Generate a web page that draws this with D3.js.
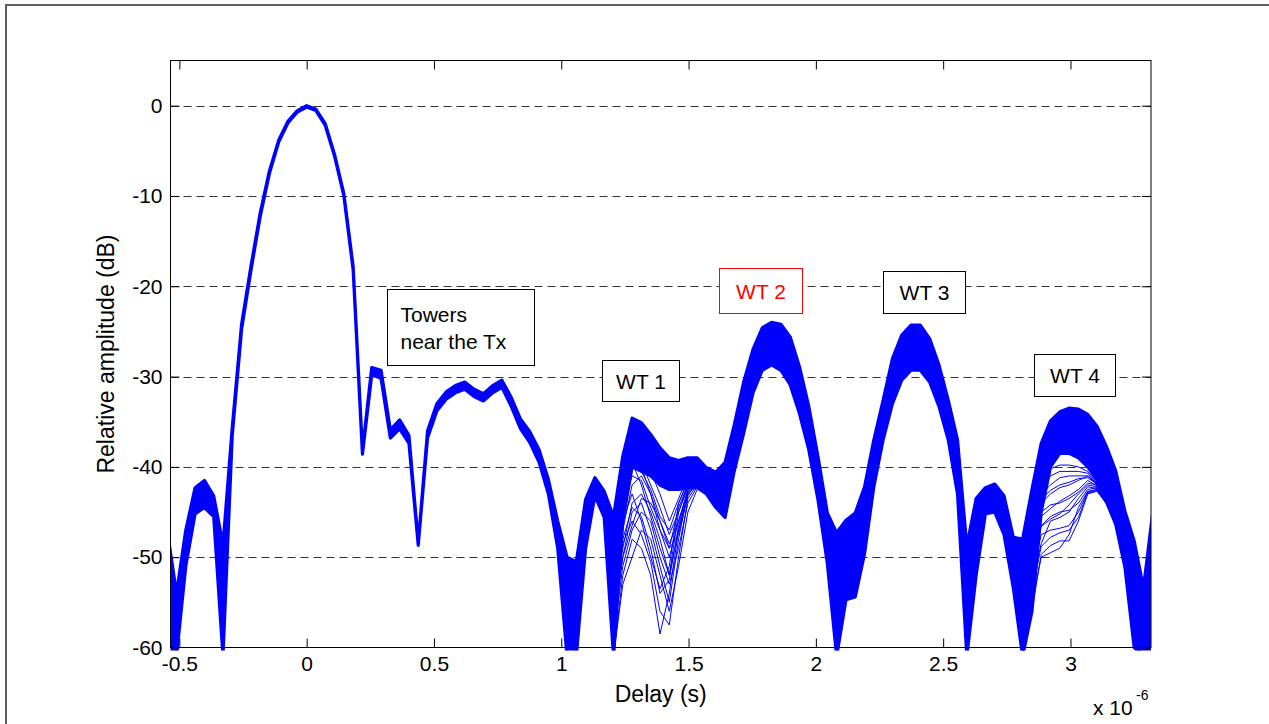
<!DOCTYPE html>
<html><head><meta charset="utf-8">
<script src="https://cdn.jsdelivr.net/npm/d3@7"></script>
<style>
body{margin:0;background:#fff}
svg{display:block}
text{font-family:"Liberation Sans",Arial,Helvetica,sans-serif}
</style>
</head><body><svg id="c" width="1269" height="724"></svg>
<script>
// ---- data (delay in units of 1e-6 s, amplitude in dB) ----
const delayUs = [-0.5478,-0.5113,-0.4748,-0.4382,-0.4017,-0.3652,-0.3287,-0.2922,-0.2556,-0.2191,
 -0.1826,-0.1461,-0.1096,-0.0730,-0.0365,0,0.0365,0.0730,0.1096,0.1461,
 0.1826,0.2191,0.2556,0.2922,0.3287,0.3652,0.4017,0.4382,0.4748,0.5113,
 0.5478,0.5843,0.6208,0.6574,0.6939,0.7304,0.7669,0.8034,0.8400,0.8765,
 0.9130,0.9495,0.9860,1.0226,1.0591,1.0956,1.1321,1.1686,1.2052,1.2417,
 1.2782,1.3147,1.3512,1.3878,1.4243,1.4608,1.4973,1.5338,1.5704,1.6069,
 1.6434,1.6799,1.7164,1.7530,1.7895,1.8260,1.8625,1.8990,1.9356,1.9721,
 2.0086,2.0451,2.0816,2.1182,2.1547,2.1912,2.2277,2.2642,2.3008,2.3373,
 2.3738,2.4103,2.4468,2.4834,2.5199,2.5564,2.5929,2.6294,2.6660,2.7025,
 2.7390,2.7755,2.8120,2.8486,2.8851,2.9216,2.9581,2.9946,3.0312,3.0677,
 3.1042,3.1407,3.1772,3.2138,3.2503,3.2868,3.3233];

// upper edge of the dense bundle of traces
const bandTop = [-47,-54,-47,-42.3,-41.5,-43.2,-48.6,-35.6,-24.2,-17.8,
 -11.9,-7.2,-3.8,-1.7,-0.55,0,-0.4,-2.0,-5.4,-9.75,
 -17.8,-38.2,-29.0,-29.3,-35.9,-34.8,-36.5,-48.4,-36.0,-33.0,
 -31.7,-31.0,-30.6,-31.4,-31.9,-31.0,-30.4,-32.3,-34.7,-36.1,
 -38.1,-41.4,-46.0,-50.0,-50.5,-43.6,-41.2,-42.7,-45.5,-38.8,
 -34.6,-35.1,-36.4,-37.9,-39.0,-39.3,-39.0,-39.0,-40.1,-40.6,
 -39.5,-35.3,-30.6,-27.0,-24.6,-24.0,-24.2,-25.6,-28.9,-33.3,
 -38.9,-45.1,-47.3,-45.9,-45.1,-42.2,-37.0,-32.6,-28.0,-25.4,
 -24.3,-24.3,-25.8,-28.7,-32.6,-37.0,-48.8,-43.5,-42.3,-41.9,
 -43.2,-47.8,-48.0,-42.5,-37.4,-34.9,-33.9,-33.5,-33.6,-34.2,
 -35.5,-37.7,-40.4,-44.9,-48.2,-53.4,-45];

// lower edge of the dense bundle of traces
const bandBottom = [-61,-61,-51,-45.2,-44.5,-45.5,-61,-36.5,-24.8,-18.3,
 -12.3,-7.5,-4.0,-1.9,-0.7,-0.15,-0.55,-2.2,-5.6,-10.0,
 -18.2,-38.6,-29.8,-30.2,-36.8,-35.8,-37.4,-48.7,-36.8,-33.8,
 -32.5,-31.8,-31.4,-32.2,-32.7,-31.8,-31.2,-33.3,-35.8,-37.3,
 -39.5,-43.0,-49.0,-61,-61,-49.0,-43.2,-45.6,-61,-46,
 -40,-40.5,-41,-42,-42.5,-42.5,-42.3,-42.3,-43.0,-44.5,
 -45.6,-40.4,-36.3,-31.8,-29.3,-28.7,-29.3,-30.9,-34.1,-38.1,
 -43.7,-50.7,-61,-54.7,-54.4,-49.6,-42.2,-37.0,-33.0,-30.4,
 -29.3,-29.3,-30.6,-33.3,-37.0,-43.0,-61,-52,-45.2,-45.0,
 -47.5,-53.4,-61,-56,-45,-40,-38.5,-38.5,-39,-40,
 -41.5,-43.8,-46.3,-51.1,-60,-61,-61];

// individual traces that leave the bundle around WT 1
const wt1DelayUs = [1.2052,1.2417,1.2782,1.3147,1.3512,1.3878,1.4243,1.4608,1.4973,1.5338,1.5704,1.6069,1.6434,1.6799];
const wt1Traces = [
 [-58,-47,-42,-41,-43,-47,-50,-46,-42.5,-41.5,-42,-43.5,-44,-39],
 [-61,-52,-48,-49,-52,-58.5,-54,-47,-43,-42,-42.5,-44,-45,-40],
 [-56,-50,-45,-44,-47,-51,-55,-48,-42.8,-42,-42.6,-44.5,-45.5,-40.4],
 [-60,-44,-39.5,-42,-45.5,-49,-52,-45,-42,-41.8,-42.8,-44,-44.8,-39.5],
 [-53,-46,-43,-46,-50,-53.5,-51,-44,-41.5,-41,-42,-43.8,-45,-40],
 [-61,-45,-37,-38,-40.5,-43,-46,-43.5,-41,-40.5,-41.5,-43,-44.5,-39],
 [-48,-44,-41,-41.5,-44.5,-47,-49,-44.5,-42,-41.5,-42.3,-44,-45.2,-40],
 [-57,-48.5,-46,-47.5,-50.5,-56,-57.5,-50,-43.5,-42,-42.5,-44.5,-45.6,-40.4],
 [-50,-43,-38.5,-39.5,-42,-44.5,-47.5,-45,-42.3,-41,-42,-43.5,-44.5,-39.5],
 [-59,-51,-47,-45,-46,-50,-53,-49,-44,-42.2,-42.5,-44,-45.3,-40.2],
 [-55,-49,-44,-43,-45,-48,-52,-47,-43,-41.8,-42.3,-44.2,-45.2,-40],
 [-61,-53,-50,-47,-48,-52,-56,-51,-45,-42.5,-42.6,-44.3,-45.4,-40.3],
 [-52,-42,-37.5,-40,-43,-46,-48.5,-46,-42.8,-41.2,-42,-43.6,-44.6,-39.6],
 [-58,-50,-46.5,-43.5,-44,-46,-49,-47.5,-43.2,-41.6,-42.4,-44.1,-45.1,-40.1],
 [-60,-48,-44.5,-45.5,-49,-54,-52.5,-46.5,-42.6,-41.4,-42.2,-43.9,-45,-40],
 [-54,-46.5,-40,-40.5,-42.5,-45.5,-47,-44,-41.8,-41,-42,-43.7,-44.9,-39.8]
];

// individual traces that leave the bundle around WT 4
const wt4DelayUs = [2.8120,2.8486,2.8851,2.9216,2.9581,2.9946,3.0312,3.0677,3.1042,3.1407,3.1772,3.2138];
const wt4Traces = [
 [-60,-50,-46.5,-45.5,-45,-44.8,-44,-42.5,-42.3,-44,-46.3,-51],
 [-61,-56,-49.7,-48.7,-48.2,-48.2,-46,-43,-42.7,-44,-46.5,-51],
 [-59,-48,-44,-43,-42.3,-42,-41.5,-41,-41.8,-44,-46.3,-51],
 [-61,-52,-47.5,-47,-46.8,-46.5,-45,-42.8,-42.5,-44,-46.5,-51.1],
 [-58,-46,-42.5,-41,-40.5,-40.5,-40.5,-40.7,-42,-44,-46.3,-51],
 [-60,-50,-45,-44.2,-44,-43.5,-42.8,-41.8,-42,-44,-46.3,-51],
 [-61,-47,-43,-42,-41.2,-41,-41,-41,-42,-43.9,-46.3,-51],
 [-59,-53,-48.5,-46,-45.6,-45,-43.5,-42.2,-42.4,-44,-46.3,-51],
 [-60,-49,-45.5,-44.6,-43.8,-43.2,-42.5,-41.5,-42.1,-44,-46.3,-51],
 [-61,-54,-48.8,-47.8,-47.3,-47,-45.6,-42.9,-42.6,-44.1,-46.4,-51],
 [-59,-47,-43.6,-42.6,-42,-41.7,-41.3,-41.2,-41.9,-44,-46.3,-51],
 [-58,-51,-46.6,-45.8,-45.2,-44.2,-43,-42,-42.2,-44,-46.3,-51],
 [-60,-45,-41.5,-40.2,-39.8,-39.8,-40,-40.5,-41.8,-43.9,-46.2,-51],
 [-61,-55,-50,-49.5,-49,-47.5,-44.5,-42.7,-42.5,-44,-46.4,-51]
];

const xTicks = [-0.5,0,0.5,1,1.5,2,2.5,3];
const yTicks = [0,-10,-20,-30,-40,-50,-60];
const gridValues = [0,-10,-20,-30,-40,-50];
const xDomain = [-0.5348, 3.3163];
const yDomain = [-60, 5];
const xLabel = "Delay (s)";
const yLabel = "Relative amplitude (dB)";
const labelTexts = [["Towers","near the Tx"],["WT 1"],["WT 2"],["WT 3"],["WT 4"]];

// ---- layout (annotation boxes in data coordinates) ----
const labelBoxes = [
 {x0:0.314,x1:0.890,y0:-20.3,y1:-28.7,align:"start",color:"#000"},
 {x0:1.161,x1:1.463,y0:-28.14,y1:-32.65,align:"middle",color:"#000"},
 {x0:1.619,x1:1.946,y0:-17.98,y1:-22.97,align:"middle",color:"#ff0000"},
 {x0:2.262,x1:2.586,y0:-18.36,y1:-22.97,align:"middle",color:"#000"},
 {x0:2.857,x1:3.175,y0:-27.51,y1:-32.13,align:"middle",color:"#000"}
];

const W = 1269, H = 724;
const plot = {left:170.5, top:60.5, right:1151, bottom:647.5};
const FS = 21, FS_LABEL = 23;
const BLUE = "#0000ff";

const svg = d3.select("#c");
svg.append("rect").attr("width",W).attr("height",H).attr("fill","#fff");
svg.append("rect").attr("x",6).attr("y",5).attr("width",W+60).attr("height",H+60)
  .attr("fill","none").attr("stroke","#5e5e5e").attr("stroke-width",2);

const x = d3.scaleLinear().domain(xDomain).range([plot.left, plot.right]);
const y = d3.scaleLinear().domain(yDomain).range([plot.bottom, plot.top]);

svg.append("defs").append("clipPath").attr("id","clip").append("rect")
  .attr("x",plot.left).attr("y",plot.top)
  .attr("width",plot.right-plot.left).attr("height",plot.bottom-plot.top+3);

// grid
svg.append("g").selectAll("line").data(gridValues).join("line")
  .attr("x1",plot.left).attr("x2",plot.right)
  .attr("y1",d=>Math.round(y(d))+0.5).attr("y2",d=>Math.round(y(d))+0.5)
  .attr("stroke","#333").attr("stroke-width",1).attr("stroke-dasharray","8,5");

// data
const dataG = svg.append("g").attr("clip-path","url(#clip)");
const idx = d3.range(delayUs.length);
const area = d3.area().x(i=>x(delayUs[i])).y0(i=>y(bandBottom[i])).y1(i=>y(bandTop[i]));
dataG.append("path").datum(idx).attr("d",area)
  .attr("fill",BLUE).attr("stroke",BLUE).attr("stroke-width",3.2).attr("stroke-linejoin","round");
const line = d3.line().x(d=>x(d[0])).y(d=>y(d[1]));
wt1Traces.forEach(tr=>{
  dataG.append("path").datum(tr.map((v,i)=>[wt1DelayUs[i],v])).attr("d",line)
    .attr("fill","none").attr("stroke",BLUE).attr("stroke-width",1);
});
wt4Traces.forEach(tr=>{
  dataG.append("path").datum(tr.map((v,i)=>[wt4DelayUs[i],v])).attr("d",line)
    .attr("fill","none").attr("stroke",BLUE).attr("stroke-width",1);
});

// axes
function styleAxis(g){
  g.attr("font-size",FS).attr("font-family","'Liberation Sans',Arial,sans-serif");
  g.select(".domain").remove();
  g.selectAll(".tick line").attr("stroke","#000");
  g.selectAll(".tick text").attr("fill","#000");
}
svg.append("g").attr("transform",`translate(0,${plot.bottom})`)
  .call(d3.axisBottom(x).tickValues(xTicks).tickFormat(d=>String(d)).tickSizeInner(-9).tickSizeOuter(0).tickPadding(9))
  .call(styleAxis);
svg.append("g").attr("transform",`translate(0,${plot.top})`)
  .call(d3.axisTop(x).tickValues(xTicks).tickFormat(()=>"").tickSizeInner(-9).tickSizeOuter(0))
  .call(styleAxis);
svg.append("g").attr("transform",`translate(${plot.left},0)`)
  .call(d3.axisLeft(y).tickValues(yTicks).tickFormat(d=>String(d)).tickSizeInner(-9).tickSizeOuter(0).tickPadding(8))
  .call(styleAxis);
svg.append("g").attr("transform",`translate(${plot.right},0)`)
  .call(d3.axisRight(y).tickValues(yTicks).tickFormat(()=>"").tickSizeInner(-9).tickSizeOuter(0))
  .call(styleAxis);

svg.append("rect").attr("x",plot.left).attr("y",plot.top)
  .attr("width",plot.right-plot.left).attr("height",plot.bottom-plot.top)
  .attr("fill","none").attr("stroke","#000").attr("stroke-width",1);

// axis labels
svg.append("text").attr("x",(plot.left+plot.right)/2).attr("y",plot.bottom+54)
  .attr("text-anchor","middle").attr("font-size",FS_LABEL).attr("fill","#000").text(xLabel);
svg.append("text").attr("transform",`translate(${plot.left-57},${(plot.top+plot.bottom)/2}) rotate(-90)`)
  .attr("text-anchor","middle").attr("font-size",FS_LABEL).attr("fill","#000").text(yLabel);
svg.append("text").attr("x",plot.right-58).attr("y",plot.bottom+67)
  .attr("font-size",FS).attr("fill","#000").text("x 10");
svg.append("text").attr("x",plot.right-15).attr("y",plot.bottom+52)
  .attr("font-size",14).attr("fill","#000").text("-6");

// annotation boxes
labelBoxes.forEach((b,i)=>{
  const bx = Math.round(x(b.x0))+0.5, by = Math.round(y(b.y0))+0.5;
  const bw = Math.round(x(b.x1)-x(b.x0)), bh = Math.round(y(b.y1)-y(b.y0));
  const g = svg.append("g");
  g.append("rect").attr("x",bx).attr("y",by).attr("width",bw).attr("height",bh)
    .attr("fill","#fff").attr("stroke",b.color).attr("stroke-width",1);
  const lines = labelTexts[i];
  const lh = 27;
  const cy = by + bh/2;
  const firstBase = cy + 7.5 - (lines.length-1)*lh/2;
  lines.forEach((t,j)=>{
    g.append("text")
      .attr("x", b.align==="start" ? bx+13 : bx+bw/2)
      .attr("y", firstBase + j*lh)
      .attr("text-anchor", b.align)
      .attr("font-size",FS).attr("fill",b.color).text(t);
  });
});
</script>
</body></html>
